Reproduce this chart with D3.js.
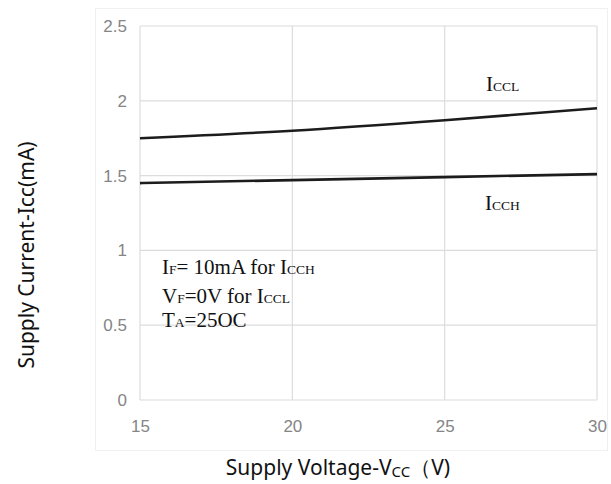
<!DOCTYPE html>
<html>
<head>
<meta charset="utf-8">
<script src="https://cdn.jsdelivr.net/npm/d3@7"></script>
<style>
  html, body { margin: 0; padding: 0; background: #fff; }
  svg { display: block; }
</style>
</head>
<body>
<svg id="chart" width="611" height="484"></svg>
<script>
// Supply current vs. supply voltage
const vcc  = [15, 20, 25, 30];
const iccl = [1.75, 1.80, 1.87, 1.95];
const icch = [1.45, 1.47, 1.49, 1.51];
const xTicks = [15, 20, 25, 30];
const yTicks = [0, 0.5, 1, 1.5, 2, 2.5];

const svg = d3.select("#chart");
const plot = { left: 140, right: 597, top: 26, bottom: 400 };

const x = d3.scaleLinear().domain([15, 30]).range([plot.left, plot.right]);
const y = d3.scaleLinear().domain([0, 2.5]).range([plot.bottom, plot.top]);

// faint outer frame
svg.append("rect")
  .attr("x", 95.5).attr("y", 8.5).attr("width", 512).attr("height", 442)
  .attr("fill", "none").attr("stroke", "#f0f0f0").attr("stroke-width", 1);

// gridlines
const grid = svg.append("g").attr("stroke", "#dcdcdc").attr("stroke-width", 1.2);
grid.selectAll("line.h").data(yTicks).join("line")
  .attr("x1", plot.left).attr("x2", plot.right)
  .attr("y1", d => y(d)).attr("y2", d => y(d));
grid.selectAll("line.v").data(xTicks).join("line")
  .attr("y1", plot.top).attr("y2", plot.bottom)
  .attr("x1", d => x(d)).attr("x2", d => x(d));

// axes (labels only, grid supplies the lines)
const tickFont = "'Liberation Sans', Arial, sans-serif";
const yAxis = svg.append("g")
  .attr("transform", `translate(${plot.left},0)`)
  .call(d3.axisLeft(y).tickValues(yTicks).tickSize(0).tickPadding(13).tickFormat(d3.format("")));
const xAxis = svg.append("g")
  .attr("transform", `translate(0,${plot.bottom})`)
  .call(d3.axisBottom(x).tickValues(xTicks).tickSize(0).tickPadding(20).tickFormat(d3.format("")));
[xAxis, yAxis].forEach(a => {
  a.select(".domain").remove();
  a.selectAll("text").attr("fill", "#858585").attr("font-family", tickFont).attr("font-size", 17);
});
yAxis.selectAll("text").attr("dy", "0.85em").attr("y", -9);

// curves
const line = d3.line().x(d => x(d[0])).y(d => y(d[1])).curve(d3.curveMonotoneX);
[iccl, icch].forEach(vals => {
  svg.append("path")
    .datum(vcc.map((v, i) => [v, vals[i]]))
    .attr("fill", "none").attr("stroke", "#1c1c1c").attr("stroke-width", 2.6)
    .attr("d", line);
});

// serif annotation text with small-letter parts
const serif = "'Liberation Serif', 'Times New Roman', serif";
function rich(xp, yp, parts) {
  const t = svg.append("text").attr("x", xp).attr("y", yp)
    .attr("font-family", serif).attr("font-size", 21).attr("fill", "#111");
  parts.forEach(p => t.append("tspan").attr("font-size", p[1] ? 13.5 : 21).text(p[0]));
}
rich(486, 91, [["I", 0], ["CCL", 1]]);
rich(485, 210, [["I", 0], ["CCH", 1]]);
rich(162, 274, [["I", 0], ["F", 1], ["= 10mA for I", 0], ["CCH", 1]]);
rich(162, 303, [["V", 0], ["F", 1], ["=0V for I", 0], ["CCL", 1]]);
rich(162, 327, [["T", 0], ["A", 1], ["=25OC", 0]]);

// axis titles
const sans = "'Noto Sans', 'Open Sans', sans-serif";
const xt = svg.append("text").attr("x", 338).attr("y", 475)
  .attr("text-anchor", "middle").attr("font-family", sans).attr("font-size", 21).attr("fill", "#111");
xt.append("tspan").text("Supply Voltage-V");
xt.append("tspan").attr("font-size", 15).attr("dy", 2).text("CC");
xt.append("tspan").attr("dy", -2).text("（V)");

svg.append("text")
  .attr("transform", "translate(34,255) rotate(-90)")
  .attr("text-anchor", "middle").attr("font-family", sans).attr("font-size", 21).attr("fill", "#111")
  .text("Supply Current-Icc(mA)");
</script>
</body>
</html>
